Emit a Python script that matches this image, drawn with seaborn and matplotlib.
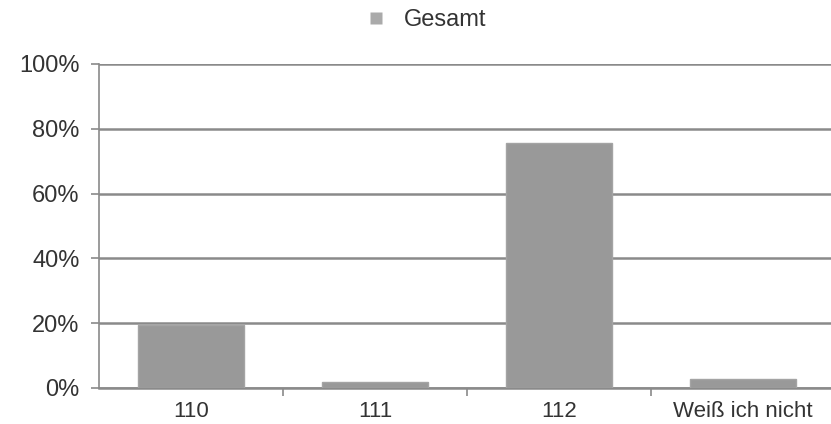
import matplotlib
matplotlib.use("Agg")
import matplotlib.pyplot as plt
from matplotlib.ticker import PercentFormatter, FixedLocator
from matplotlib.lines import Line2D
import seaborn as sns
import pandas as pd

categories = ["110", "111", "112", "Weiß ich nicht"]
gesamt = [19.4, 1.8, 75.7, 2.8]
series_name = "Gesamt"
y_ticks = [0, 20, 40, 60, 80, 100]

sns.set_theme(style="white")
plt.rcParams["font.family"] = ["Liberation Sans", "DejaVu Sans"]

df = pd.DataFrame({"Antwort": categories, "Anteil": gesamt})

W, H = 831, 424
fig = plt.figure(figsize=(W / 100, H / 100), dpi=100)
ax_left, ax_width = 99, 732
ax = fig.add_axes([ax_left / W, 36 / H, ax_width / W, 324 / H])

bar_color = "#999999"
sns.barplot(data=df, x="Antwort", y="Anteil", color=bar_color, width=0.58,
            saturation=1, ax=ax, zorder=3)
for p in ax.patches:
    p.set_edgecolor("#a4a4a4")
    p.set_linewidth(1.0)

ax.set_ylim(0, 100)
# one category slot is 184 px wide; the plot stops just short of the last slot's end
ax.set_xlim(-0.5, -0.5 + ax_width / 184)
ax.yaxis.set_major_locator(FixedLocator(y_ticks))
ax.yaxis.set_major_formatter(PercentFormatter(decimals=0))
ax.set_xlabel("")
ax.set_ylabel("")

grid_color = "#8a8a8a"
text_color = "#333333"
ax.grid(axis="y", color=grid_color, linewidth=1.8, zorder=0)
ax.set_axisbelow(True)
for side in ["top", "right"]:
    ax.spines[side].set_visible(False)
ax.spines["left"].set_color(grid_color)
ax.spines["left"].set_linewidth(1.2)
ax.spines["bottom"].set_color(grid_color)
ax.spines["bottom"].set_linewidth(1.8)

# y ticks point left; x ticks sit on the category boundaries and point down
ax.tick_params(axis="y", which="major", left=True, length=6, width=1.2,
               color=grid_color, labelsize=17, labelcolor=text_color, pad=8)
ax.tick_params(axis="x", which="major", bottom=False, labelsize=16,
               labelcolor=text_color, pad=3.5)
ax.set_xticks([i + 0.5 for i in range(len(categories) - 1)], minor=True)
ax.tick_params(axis="x", which="minor", bottom=True, length=6, width=1.2,
               color=grid_color, direction="out")

handle = Line2D([], [], marker="s", linestyle="none", markersize=8,
                markerfacecolor="#aaaaaa", markeredgecolor="none")
fig.legend([handle], [series_name], loc="center", bbox_to_anchor=(0.513, 0.953),
           frameon=False, fontsize=17, handletextpad=0.8, handlelength=0.8,
           labelcolor=text_color)

fig.savefig("out.png", dpi=100, facecolor="white")
